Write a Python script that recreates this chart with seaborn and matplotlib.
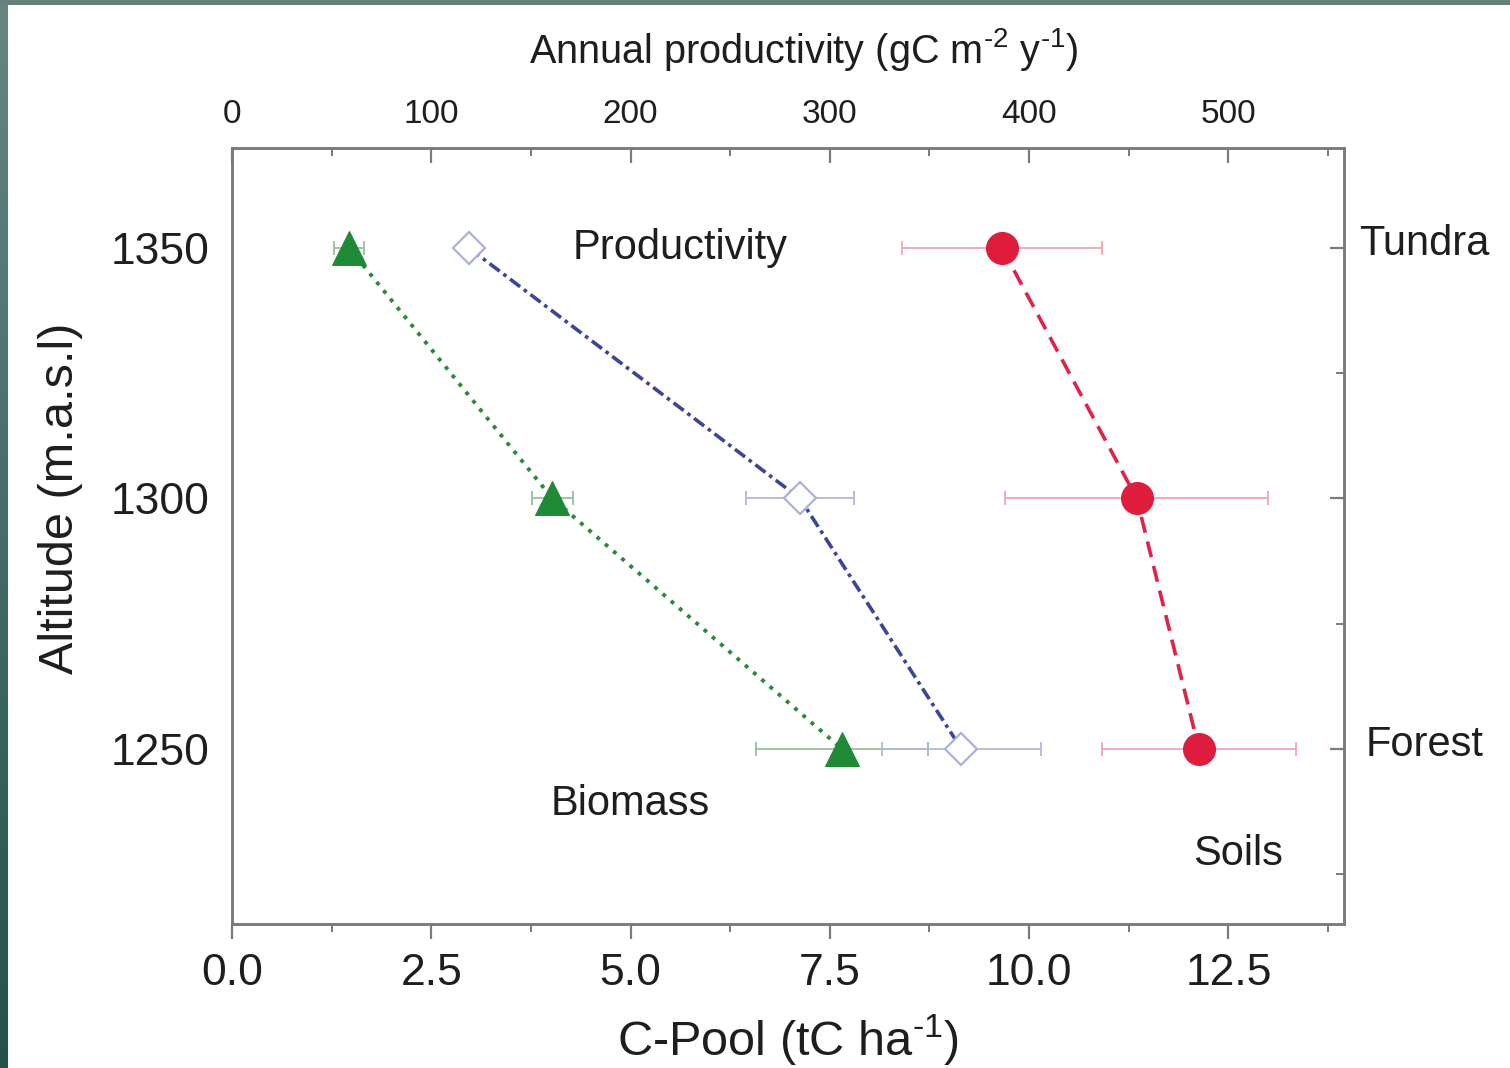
import numpy as np
import pandas as pd
import matplotlib
matplotlib.use("Agg")
import matplotlib.pyplot as plt
from matplotlib.ticker import MultipleLocator
import seaborn as sns

# Altitudes of the three sites
altitude = [1350, 1300, 1250]
site_names = ["Tundra", "Forest"]
site_altitude = [1350, 1250]

# Biomass C-pool (tC ha-1)
biomass = [1.47, 4.02, 7.65]
biomass_err = [0.19, 0.26, 1.08]

# Soil C-pool (tC ha-1)
soils = [9.66, 11.35, 12.13]
soils_err = [1.25, 1.65, 1.22]

# Annual productivity (gC m-2 y-1)
productivity = [119, 285, 366]
productivity_err = [4, 27, 40]

bottom_ticks = [0.0, 2.5, 5.0, 7.5, 10.0, 12.5]
top_ticks = [0, 100, 200, 300, 400, 500]
y_ticks = [1250, 1300, 1350]

sns.set_theme(style="white")
plt.rcParams["font.family"] = ["Liberation Sans", "DejaVu Sans"]
plt.rcParams["mathtext.default"] = "regular"
plt.rcParams["mathtext.fontset"] = "custom"
plt.rcParams["mathtext.rm"] = "Liberation Sans"

TEXT = "#1e1e1e"
SPINE = "#7a7a7a"

fig = plt.figure(figsize=(15.10, 10.68), dpi=100, facecolor="white")

# Slide frame: gradient strip on the left, flat strip on top
strip = fig.add_axes([0, 0, 8 / 1510, 1])
grad = np.linspace(0, 1, 256)[:, None]
cmap = matplotlib.colors.LinearSegmentedColormap.from_list("frame", ["#23524c", "#678680"])
strip.imshow(grad, aspect="auto", cmap=cmap, origin="lower", extent=[0, 1, 0, 1])
strip.set_axis_off()
top = fig.add_axes([0, 1 - 5 / 1068, 1, 5 / 1068])
top.set_facecolor("#66807a")
top.set_xticks([]); top.set_yticks([])
for s in top.spines.values():
    s.set_visible(False)

ax = fig.add_axes([232 / 1510, 1 - 924 / 1068, (1344 - 232) / 1510, (924 - 148) / 1068])
ax.set_facecolor("white")
XMAX = 13.95
ax.set_xlim(0, XMAX)
ax.set_ylim(1215, 1370)

df_bio = pd.DataFrame({"alt": altitude, "val": biomass})
df_soil = pd.DataFrame({"alt": altitude, "val": soils})
df_prod = pd.DataFrame({"alt": altitude, "val": productivity})

# Biomass
ax.errorbar(biomass, altitude, xerr=biomass_err, fmt="none", ecolor="#92c39c",
            elinewidth=1.3, capsize=5, capthick=1.3, zorder=2)
sns.lineplot(data=df_bio, x="val", y="alt", sort=False, estimator=None, ax=ax,
             color="#2a8a3c", linestyle=(0, (1.0, 1.8)), linewidth=2.8,
             marker="^", markersize=24, markerfacecolor="#1f8a35",
             markeredgecolor="#1f8a35", zorder=3)

# Soils
ax.errorbar(soils, altitude, xerr=soils_err, fmt="none", ecolor="#f3a3b3",
            elinewidth=1.3, capsize=5, capthick=1.3, zorder=2)
sns.lineplot(data=df_soil, x="val", y="alt", sort=False, estimator=None, ax=ax,
             color="#e3224a", linestyle=(0, (4.5, 2.5)), linewidth=2.6,
             marker="o", markersize=23, markerfacecolor="#e01c3c",
             markeredgecolor="#e01c3c", zorder=3)

# Productivity on the top axis
ax2 = ax.twiny()
ax2.set_xlim(0, XMAX * 40)
ax2.errorbar(productivity, altitude, xerr=productivity_err, fmt="none", ecolor="#b3b6dd",
             elinewidth=1.3, capsize=5, capthick=1.3, zorder=2)
sns.lineplot(data=df_prod, x="val", y="alt", sort=False, estimator=None, ax=ax2,
             color="#3c4596", linestyle=(0, (3.5, 1.3, 1.0, 1.3)), linewidth=2.6,
             marker="D", markersize=16, markerfacecolor="white",
             markeredgecolor="#aab0da", markeredgewidth=1.6, zorder=3)
ax2.set_ylim(1215, 1370)

# Axes styling
for a in (ax, ax2):
    for s in a.spines.values():
        s.set_color(SPINE)
        s.set_linewidth(1.8)

ax.set_xticks(bottom_ticks)
ax.set_xticklabels([f"{t:.1f}" for t in bottom_ticks])
ax.xaxis.set_minor_locator(MultipleLocator(1.25))
ax.set_yticks(y_ticks)
ax.yaxis.set_minor_locator(MultipleLocator(25))
ax.tick_params(axis="x", which="major", direction="out", length=11, width=1.6,
               color=SPINE, labelsize=32, labelcolor=TEXT, pad=10)
ax.tick_params(axis="x", which="minor", direction="out", length=6, width=1.4, color=SPINE)
ax.tick_params(axis="y", which="major", direction="out", length=10, width=1.6,
               color=SPINE, labelsize=32, labelcolor=TEXT, pad=6, right=True)
ax.tick_params(axis="y", which="minor", direction="out", length=6, width=1.4,
               color=SPINE, right=True)
# right-side ticks point inward
for t in ax.yaxis.get_major_ticks() + ax.yaxis.get_minor_ticks():
    t.tick2line.set_marker(matplotlib.lines.TICKLEFT)

ax2.set_xticks(top_ticks)
ax2.xaxis.set_minor_locator(MultipleLocator(50))
ax2.tick_params(axis="x", which="major", direction="in", length=11, width=1.6,
                color=SPINE, labelsize=24, labelcolor=TEXT, pad=13)
ax2.tick_params(axis="x", which="minor", direction="in", length=6, width=1.4, color=SPINE)

ax.set_xlabel(r"C-Pool (tC ha$^{\text{-}1}$)", fontsize=35, color=TEXT, labelpad=13)
ax.set_ylabel("Altitude (m.a.s.l)", fontsize=35, color=TEXT)
ax.yaxis.set_label_coords(-0.134, 0.549)
ax2.set_xlabel(r"Annual productivity (gC m$^{\text{-}2}$ y$^{\text{-}1}$)", fontsize=28.5,
               color=TEXT, labelpad=26)
ax2.xaxis.label.set_x(0.514)
ax2.set_ylabel("")

# Labels inside the plot
ax.text(5.62, 1350, "Productivity", fontsize=30, color=TEXT, ha="center", va="center")
ax.text(5.00, 1239, "Biomass", fontsize=30, color=TEXT, ha="center", va="center")
ax.text(12.62, 1229, "Soils", fontsize=30, color=TEXT, ha="center", va="center")

# Site names outside the right edge
for name, alt in zip(site_names, site_altitude):
    ax.text(1.072, alt + 0.8, name, fontsize=30, color=TEXT, ha="center", va="center",
            transform=ax.get_yaxis_transform())

fig.savefig("out.png", dpi=100, facecolor="white")
